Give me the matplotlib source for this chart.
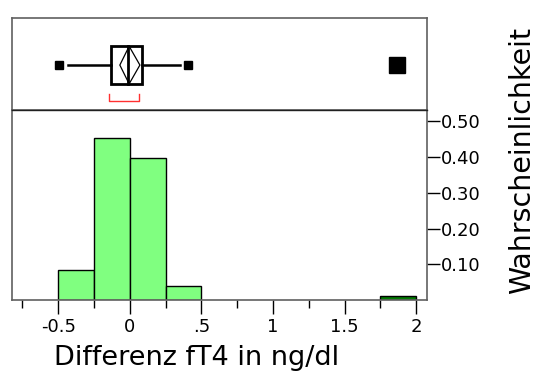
#!/usr/bin/env python3
# -*- coding: utf-8 -*-
"""
Histogram + outlier box plot of fT4 differences (JMP style)
"""
import matplotlib
matplotlib.use("Agg")
import matplotlib.pyplot as plt
from matplotlib.patches import Rectangle, Polygon

# Histogram data (bin left edges, probabilities)
bin_edges = [-0.5, -0.25, 0.0, 0.25, 1.75]
probs = [0.085, 0.453, 0.397, 0.040, 0.012]
bin_colors = ["#80ff80", "#80ff80", "#80ff80", "#80ff80", "#007a00"]
bin_width = 0.25

# Box plot summary
q1, median, q3 = -0.133, -0.012, 0.082
mean, ci_lo, ci_hi = -0.005, -0.07, 0.07
whisker_lo, whisker_hi = -0.434, 0.349
end_points = [-0.497, 0.405]
outliers = [1.866]
short_half = (-0.145, 0.063)

xticks = [-0.5, 0, 0.5, 1, 1.5, 2]
xticklabels = ["-0.5", "0", ".5", "1", "1.5", "2"]
xminor = [-0.75, -0.25, 0.25, 0.75, 1.25, 1.75]
yticks = [0.1, 0.2, 0.3, 0.4, 0.5]
yticklabels = ["0.10", "0.20", "0.30", "0.40", "0.50"]

W, H = 536, 373
fig = plt.figure(figsize=(W / 100, H / 100), dpi=100)

left, right = 12.3, 427.0
xlim = (-0.821, 2.075)
spine_col = "#606060"

ax_box = fig.add_axes([left / W, 1 - 110 / H, (right - left) / W, (110 - 18.3) / H])
ax = fig.add_axes([left / W, 1 - 300 / H, (right - left) / W, 190 / H])

# --- histogram ---
ax.bar(bin_edges, probs, width=bin_width, align="edge", color=bin_colors,
       edgecolor="black", linewidth=1.0, zorder=2)
ax.set_xlim(xlim)
ax.set_ylim(0, 0.532)
ax.yaxis.tick_right()
ax.set_yticks(yticks)
ax.set_yticklabels(yticklabels)
ax.set_xticks(xticks)
ax.set_xticklabels(xticklabels)
ax.set_xticks(xminor, minor=True)
ax.tick_params(axis="x", which="major", direction="out", length=10, width=1, pad=3, labelsize=13)
ax.tick_params(axis="x", which="minor", direction="out", length=5.5, width=1)
ax.tick_params(axis="y", which="major", direction="out", length=9.5, width=1, pad=0.5, labelsize=13)
for s in ["left", "right", "bottom"]:
    ax.spines[s].set_color(spine_col)
    ax.spines[s].set_linewidth(1.2)
ax.spines["top"].set_color("#202020")
ax.spines["top"].set_linewidth(1.0)

# --- box plot panel ---
yc, hh = 0.49, 0.205
ax_box.set_xlim(xlim)
ax_box.set_ylim(0, 1)
ax_box.set_xticks([])
ax_box.set_yticks([])
for s in ax_box.spines.values():
    s.set_color(spine_col)
    s.set_linewidth(1.2)

ax_box.add_patch(Rectangle((q1, yc - hh), q3 - q1, 2 * hh, fill=False,
                           edgecolor="black", linewidth=2.0, zorder=3))
ax_box.plot([median, median], [yc - hh, yc + hh], color="black", lw=2.0, zorder=3)
ax_box.add_patch(Polygon([(ci_lo, yc), (mean, yc + hh), (ci_hi, yc), (mean, yc - hh)],
                         closed=True, fill=False, edgecolor="black", linewidth=0.9, zorder=4))
ax_box.plot([whisker_lo, q1], [yc, yc], color="black", lw=1.8)
ax_box.plot([q3, whisker_hi], [yc, yc], color="black", lw=1.8)
ax_box.plot(end_points, [yc] * len(end_points), "s", color="black", markersize=5.5)
ax_box.plot(outliers, [yc] * len(outliers), "s", color="black", markersize=12)

by, bt = 0.098, 0.17
ax_box.plot([short_half[0], short_half[0], short_half[1], short_half[1]],
            [bt, by, by, bt], color="#ff3030", lw=1.0)

fig.text(197 / W, 1 - 358 / H, "Differenz fT4 in ng/dl", fontsize=19.5,
         ha="center", va="center")
fig.text(522 / W, 1 - 160 / H, "Wahrscheinlichkeit", fontsize=20.5,
         rotation=90, ha="center", va="center")

fig.savefig("out.png", dpi=100)
